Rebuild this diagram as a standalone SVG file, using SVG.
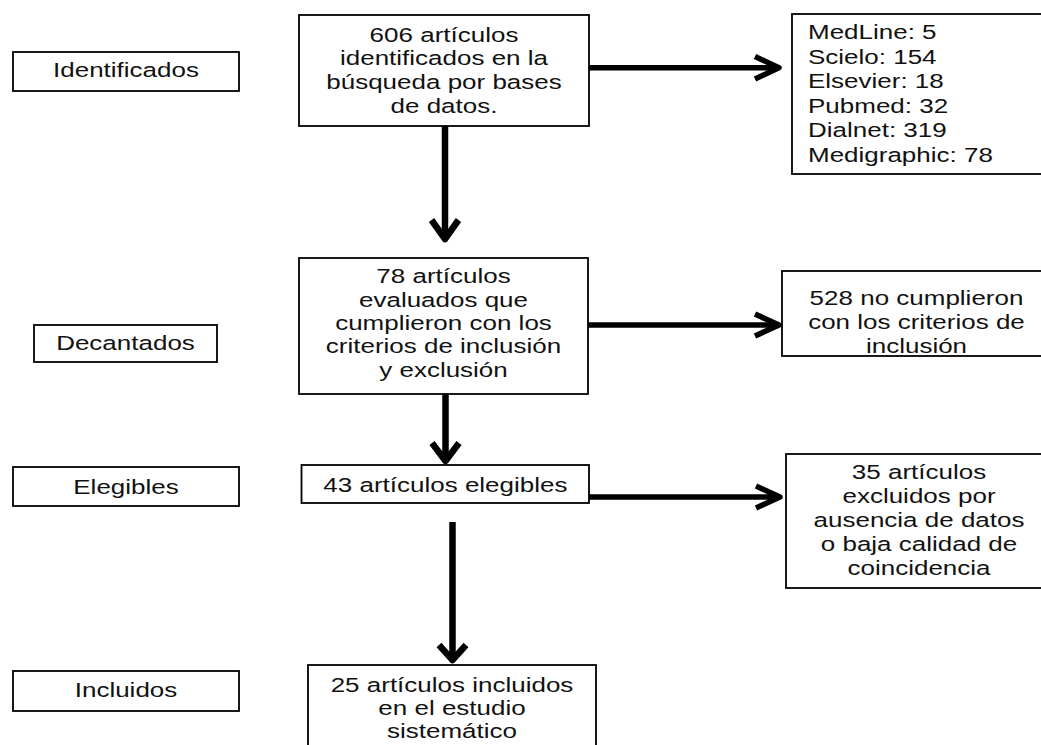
<svg xmlns="http://www.w3.org/2000/svg" width="1041" height="745" viewBox="0 0 1041 745">
<style>
.box{fill:#fff;stroke:#000;stroke-width:1.8}
.t{font-family:"Liberation Sans",Arial,sans-serif;font-size:19.5px;fill:#111;text-anchor:middle}
.l{text-anchor:start}
.h{fill:none;stroke:#000;stroke-width:5.5;stroke-linecap:butt;stroke-linejoin:round}
.v{fill:none;stroke:#000;stroke-width:6.5;stroke-linecap:butt;stroke-linejoin:round}
</style>
<rect width="1041" height="745" fill="#fff"/>
<g id="connectors">
<path class="h" d="M589 67.7H779"/>
<polyline class="h" points="755,56.5 779,67.7 755,79"/>
<path class="v" d="M445 126V239"/>
<polyline class="v" points="431.5,220 445,239 458.5,220"/>
<path class="h" d="M588 325H779"/>
<polyline class="h" points="755,314 779,325 755,336"/>
<path class="v" d="M445.5 394V461"/>
<polyline class="v" points="432,443 445.5,461 459,443"/>
<path class="h" d="M589 497H780"/>
<polyline class="h" points="756,486 780,497 756,508"/>
<path class="v" d="M452.5 522V660"/>
<polyline class="v" points="439,645 452.5,660 466,645"/>
</g>
<g id="lbl-identificados">
<rect class="box" x="13" y="52" width="226" height="39"/>
<text class="t" transform="translate(126 0) scale(1.333 1)" x="0" y="77.5">Identificados</text>
</g>
<g id="n606">
<rect class="box" x="299" y="15" width="290" height="111"/>
<text class="t" transform="translate(444 0) scale(1.333 1)"><tspan x="0" y="41.7">606 artículos</tspan><tspan x="0" y="65.4">identificados en la</tspan><tspan x="0" y="89.1">búsqueda por bases</tspan><tspan x="0" y="112.8">de datos.</tspan></text>
</g>
<g id="bases">
<rect class="box" x="792" y="14" width="258" height="160"/>
<text class="t l" transform="translate(808 0) scale(1.333 1)"><tspan x="0" y="39.5">MedLine: 5</tspan><tspan x="0" y="64">Scielo: 154</tspan><tspan x="0" y="88.5">Elsevier: 18</tspan><tspan x="0" y="113">Pubmed: 32</tspan><tspan x="0" y="137.5">Dialnet: 319</tspan><tspan x="0" y="162">Medigraphic: 78</tspan></text>
</g>
<g id="lbl-decantados">
<rect class="box" x="34" y="325" width="183" height="37"/>
<text class="t" transform="translate(125.5 0) scale(1.333 1)" x="0" y="350">Decantados</text>
</g>
<g id="n78">
<rect class="box" x="299" y="258" width="289" height="136"/>
<text class="t" transform="translate(443.5 0) scale(1.333 1)"><tspan x="0" y="283.3">78 artículos</tspan><tspan x="0" y="306.7">evaluados que</tspan><tspan x="0" y="330">cumplieron con los</tspan><tspan x="0" y="353.3">criterios de inclusión</tspan><tspan x="0" y="376.7">y exclusión</tspan></text>
</g>
<g id="n528">
<rect class="box" x="782" y="271" width="268" height="85"/>
<text class="t" transform="translate(916.5 0) scale(1.333 1)"><tspan x="0" y="305">528 no cumplieron</tspan><tspan x="0" y="329">con los criterios de</tspan><tspan x="0" y="353">inclusión</tspan></text>
</g>
<g id="lbl-elegibles">
<rect class="box" x="13" y="467" width="226" height="39"/>
<text class="t" transform="translate(126 0) scale(1.333 1)" x="0" y="494">Elegibles</text>
</g>
<g id="n43">
<rect class="box" x="301.5" y="465" width="287.5" height="38"/>
<text class="t" transform="translate(445.4 0) scale(1.333 1)" x="0" y="491.7">43 artículos elegibles</text>
</g>
<g id="n35">
<rect class="box" x="786" y="454" width="264" height="134"/>
<text class="t" transform="translate(919 0) scale(1.333 1)"><tspan x="0" y="479.3">35 artículos</tspan><tspan x="0" y="503.3">excluidos por</tspan><tspan x="0" y="527.3">ausencia de datos</tspan><tspan x="0" y="551.5">o baja calidad de</tspan><tspan x="0" y="575.5">coincidencia</tspan></text>
</g>
<g id="lbl-incluidos">
<rect class="box" x="13" y="671" width="226" height="40"/>
<text class="t" transform="translate(126 0) scale(1.333 1)" x="0" y="697.3">Incluidos</text>
</g>
<g id="n25">
<rect class="box" x="308" y="665" width="288" height="95"/>
<text class="t" transform="translate(452 0) scale(1.333 1)"><tspan x="0" y="691.7">25 artículos incluidos</tspan><tspan x="0" y="715">en el estudio</tspan><tspan x="0" y="738.3">sistemático</tspan></text>
</g>
</svg>
